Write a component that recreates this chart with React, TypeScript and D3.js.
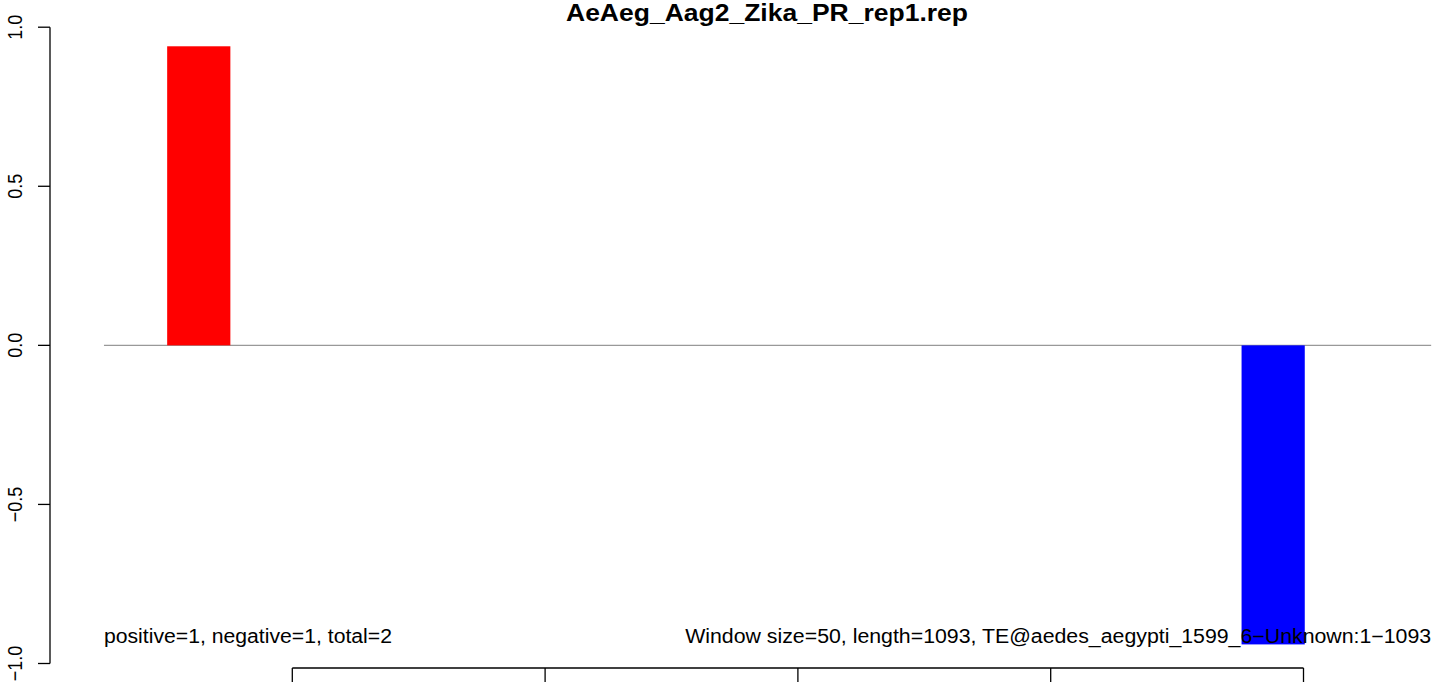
import React from "react";
import * as d3 from "d3";

const title = "AeAeg_Aag2_Zika_PR_rep1.rep";
const binStart = [101, 951];
const binWidth = 50;
const binValue = [0.94, -0.94];
const binColor = ["#FF0000", "#0000FF"];
const yTicks = [-1, -0.5, 0, 0.5, 1];
const xTicks = [200, 400, 600, 800, 1000];
const lineRange = [51, 1101];
const leftNote = "positive=1, negative=1, total=2";
const rightNote = "Window size=50, length=1093, TE@aedes_aegypti_1599_6\u2212Unknown:1\u22121093";

export default function App() {
  const W = 1444, H = 687;
  const x = d3.scaleLinear().domain([200, 1000]).range([292.3, 1303.5]);
  const y = d3.scaleLinear().domain([-1, 1]).range([663.5, 27.2]);
  const fmt = (v: number) => d3.format(".1f")(v).replace("-", "\u2212");
  const font = "'Liberation Sans', Arial, Helvetica, sans-serif";
  const axisX = 50;
  const axisY = 668;
  return (
    <svg width={W} height={H} style={{ position: "absolute", left: 0, top: 0, background: "#fff" }} fontFamily={font}>
      <rect x={0} y={0} width={W} height={H} fill="#fff" />
      {/* zero line */}
      <line x1={x(lineRange[0])} x2={x(lineRange[1])} y1={y(0)} y2={y(0)} stroke="#999" strokeWidth={1.3} />
      {/* bars */}
      {binStart.map((s, i) => (
        <rect key={i} x={x(s)} width={x(s + binWidth) - x(s)}
          y={Math.min(y(0), y(binValue[i]))} height={Math.abs(y(binValue[i]) - y(0))}
          fill={binColor[i]} />
      ))}
      {/* notes */}
      <text x={x(lineRange[0])} y={643} fontSize={19.5} textLength={288} lengthAdjust="spacingAndGlyphs">{leftNote}</text>
      <text x={x(lineRange[1]) - 746} y={643} fontSize={19.5} textLength={746} lengthAdjust="spacingAndGlyphs">{rightNote}</text>
      {/* title */}
      <text x={767 - 201} y={21} fontSize={23.5} fontWeight="bold" textLength={402} lengthAdjust="spacingAndGlyphs">{title}</text>
      {/* y axis */}
      <line x1={axisX} x2={axisX} y1={y(1)} y2={y(-1)} stroke="#000" strokeWidth={1.3} />
      {yTicks.map((t) => (
        <g key={t}>
          <line x1={axisX - 12} x2={axisX} y1={y(t)} y2={y(t)} stroke="#000" strokeWidth={1.3} />
          <text transform={`translate(21.5,${y(t)}) scale(1.17,1) rotate(-90)`} textAnchor="middle" fontSize={18}>{fmt(t)}</text>
        </g>
      ))}
      {/* x axis (tick labels fall below the visible area in the reference) */}
      <line x1={x(xTicks[0])} x2={x(xTicks[xTicks.length - 1])} y1={axisY} y2={axisY} stroke="#000" strokeWidth={1.3} />
      {xTicks.map((t) => (
        <line key={t} x1={x(t)} x2={x(t)} y1={axisY} y2={axisY + 14} stroke="#000" strokeWidth={1.3} />
      ))}
    </svg>
  );
}
